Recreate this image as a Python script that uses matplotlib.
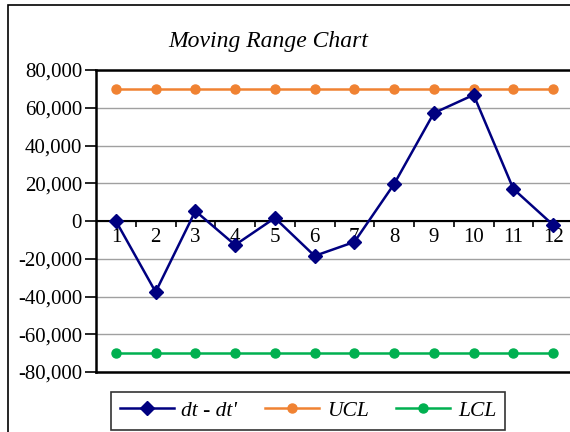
import matplotlib
matplotlib.use("Agg")
import matplotlib.pyplot as plt
from matplotlib.patches import Rectangle

categories = [1, 2, 3, 4, 5, 6, 7, 8, 9, 10, 11, 12]
dt_diff = [0, -37600, 5300, -12700, 1600, -18500, -11100, 19600, 57200, 66800, 17000, -2100]
ucl = [69800] * 12
lcl = [-69800] * 12
yticks = [-80000, -60000, -40000, -20000, 0, 20000, 40000, 60000, 80000]

plt.rcParams['font.family'] = ['Liberation Serif', 'DejaVu Serif']

fig = plt.figure(figsize=(5.7, 4.32), dpi=100)
fig.patches.append(Rectangle((8/570, -0.1), 1.2, 1 - 5/432 + 0.1, transform=fig.transFigure,
                             fill=False, edgecolor='black', lw=1.2, zorder=0))

ax = fig.add_axes([96/570, 1 - 372/432, (573 - 96)/570, (372 - 70)/432])
ax.set_xlim(0.5, 12.5)
ax.set_ylim(-80000, 80000)
ax.set_yticks(yticks)
ax.set_yticklabels([f"{v:,}" if v >= 0 else f"-{abs(v):,}" for v in yticks], fontsize=15)
ax.tick_params(axis='y', direction='out', length=8, width=1.2, pad=2)
ax.set_xticks([])
ax.yaxis.grid(True, color='#A0A0A0', lw=1)
ax.set_axisbelow(True)
for s in ax.spines.values():
    s.set_linewidth(1.8)
    s.set_color('black')

ax.axhline(0, color='black', lw=1.5, zorder=1)
ax.vlines([c + 0.5 for c in categories[:-1]], -3000, 0, color='black', lw=1.2, zorder=1)
for c in categories:
    ax.text(c, -9000, str(c), ha='center', va='center', fontsize=15, zorder=2)

ax.plot(categories, dt_diff, color='#000080', lw=1.8, marker='D', markersize=7,
        label="dt - dt'", zorder=4)
ax.plot(categories, ucl, color='#F08232', lw=1.8, marker='o', markersize=6.5,
        label='UCL', zorder=3)
ax.plot(categories, lcl, color='#00B050', lw=1.8, marker='o', markersize=6.5,
        label='LCL', zorder=3)

fig.text(268/570, 1 - 42/432, 'Moving Range Chart', fontsize=17, style='italic',
         ha='center', va='center')

leg = fig.legend(loc='center', bbox_to_anchor=(308/570, 1 - 411/432), ncol=3,
                 prop={'style': 'italic', 'size': 15.5}, frameon=True, fancybox=False,
                 edgecolor='black', handlelength=2.5, columnspacing=1.3, handletextpad=0.35,
                 borderpad=0.4, borderaxespad=0)
leg.get_frame().set_linewidth(1.2)

fig.savefig('out.png', dpi=100)
